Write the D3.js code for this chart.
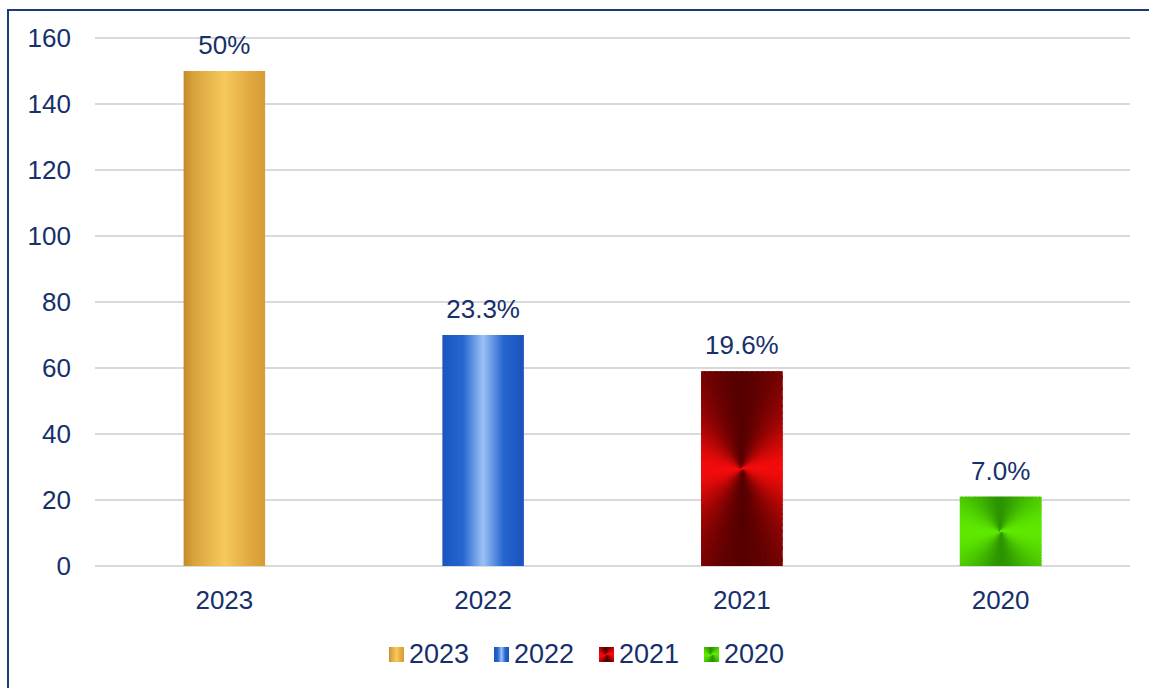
<!DOCTYPE html>
<html><head><meta charset="utf-8">
<script src="https://cdn.jsdelivr.net/npm/d3@7"></script>
<style>body{margin:0;background:#fff}svg{display:block}text{font-family:"Liberation Sans",Arial,sans-serif}</style>
</head><body>
<script>
const categories = ["2023","2022","2021","2020"];
const values = [150, 70, 59, 21];
const valueLabels = ["50%","23.3%","19.6%","7.0%"];
const yTicks = [0,20,40,60,80,100,120,140,160];

const W=1149,H=688, textColor="#17306b", FS=26;
const svg=d3.select("body").append("svg").attr("width",W).attr("height",H);
const defs=svg.append("defs");
function lin(id,stops,x2,y2){const g=defs.append("linearGradient").attr("id",id).attr("x1",0).attr("y1",0).attr("x2",x2).attr("y2",y2);
  stops.forEach(s=>g.append("stop").attr("offset",s[0]).attr("stop-color",s[1]).attr("stop-opacity",s[2]===undefined?1:s[2]));}
lin("g2023",[[0,"#c48a2a"],[0.12,"#d9a23c"],[0.5,"#f6c95c"],[0.8,"#e2aa40"],[1,"#d59c36"]],1,0);
lin("g2022",[[0,"#1a55c0"],[0.25,"#2466d0"],[0.5,"#9cc0f5"],[0.75,"#2566d0"],[1,"#1a52bb"]],1,0);
// conic-like fills: [colour at horizontal angle, colour at vertical angle]
const conic={"2021":["#f20c0c","#560000"],"2020":["#5fe800","#2c9400"]};
const linearFill={"2023":"url(#g2023)","2022":"url(#g2022)"};

// border
svg.append("rect").attr("x",8).attr("y",10).attr("width",W).attr("height",H).attr("fill","none").attr("stroke","#1f3a7a").attr("stroke-width",2);

const x=d3.scaleBand().domain(categories).range([95,1130]).paddingInner(0.685).paddingOuter(0.3425);
const y=d3.scaleLinear().domain([0,160]).range([566,38]);

const grid=svg.append("g");
grid.selectAll("line").data(yTicks).join("line").attr("x1",95).attr("x2",1130)
  .attr("y1",d=>y(d)).attr("y2",d=>y(d)).attr("stroke","#d9d9d9").attr("stroke-width",2);

const yAxis=svg.append("g").attr("transform","translate(95,0)").call(d3.axisLeft(y).tickValues(yTicks).tickSize(0).tickPadding(24));
yAxis.select(".domain").remove();
yAxis.selectAll("text").attr("font-size",FS).attr("fill",textColor).attr("font-family","Liberation Sans, Arial, sans-serif").attr("dy","0.34em");

const xAxis=svg.append("g").attr("transform","translate(0,566)").call(d3.axisBottom(x).tickSize(0).tickPadding(0));
xAxis.select(".domain").remove();
xAxis.selectAll("text").attr("font-size",FS).attr("fill",textColor).attr("font-family","Liberation Sans, Arial, sans-serif").attr("dy",null).attr("y",43);

function conicFill(g, id, cx, cy, r, cols, clipW, clipH, clipX, clipY){
  const cp=defs.append("clipPath").attr("id",id);
  cp.append("rect").attr("x",clipX).attr("y",clipY).attr("width",clipW).attr("height",clipH);
  const cg=g.append("g").attr("clip-path",`url(#${id})`);
  cg.append("rect").attr("x",clipX).attr("y",clipY).attr("width",clipW).attr("height",clipH).attr("fill",d3.interpolateRgb(cols[1],cols[0])(0.4));
  const interp=d3.interpolateRgb(cols[1],cols[0]);
  const N=120;
  for(let k=0;k<N;k++){
    const a0=k/N*2*Math.PI, a1=(k+1)/N*2*Math.PI, am=(a0+a1)/2;
    const t=Math.pow(Math.abs(Math.cos(am)),1.6);
    const col=interp(t);
    cg.append("path").attr("d",`M${cx},${cy}L${cx+r*Math.cos(a0)},${cy+r*Math.sin(a0)}L${cx+r*Math.cos(a1)},${cy+r*Math.sin(a1)}Z`)
      .attr("fill",col).attr("stroke",col).attr("stroke-width",1.2).attr("stroke-linejoin","round");
  }
}

const bars=svg.append("g");
categories.forEach((c,i)=>{
  const bx=x(c), by=y(values[i]), bw=x.bandwidth(), bh=y(0)-y(values[i]);
  if(linearFill[c]){
    bars.append("rect").attr("x",bx).attr("y",by).attr("width",bw).attr("height",bh).attr("fill",linearFill[c]);
  } else {
    conicFill(bars,"clip"+c,bx+bw/2,by+bh/2,Math.max(bw,bh),conic[c],bw,bh,bx,by);
  }
  svg.append("text").attr("x",bx+bw/2).attr("y",by-17).attr("text-anchor","middle")
    .attr("font-size",FS).attr("fill",textColor).text(valueLabels[i]);
});

// legend
const legX=[389,494,599,704];
const leg=svg.append("g");
categories.forEach((c,i)=>{
  const g=leg.append("g").attr("transform",`translate(${legX[i]},647)`);
  if(linearFill[c]) g.append("rect").attr("width",15).attr("height",15).attr("fill",linearFill[c]);
  else conicFill(g,"lclip"+c,7.5,7.5,15,conic[c],15,15,0,0);
  g.append("text").attr("x",20).attr("y",16).attr("font-size",27).attr("fill",textColor).text(c);
});
</script>
</body></html>
